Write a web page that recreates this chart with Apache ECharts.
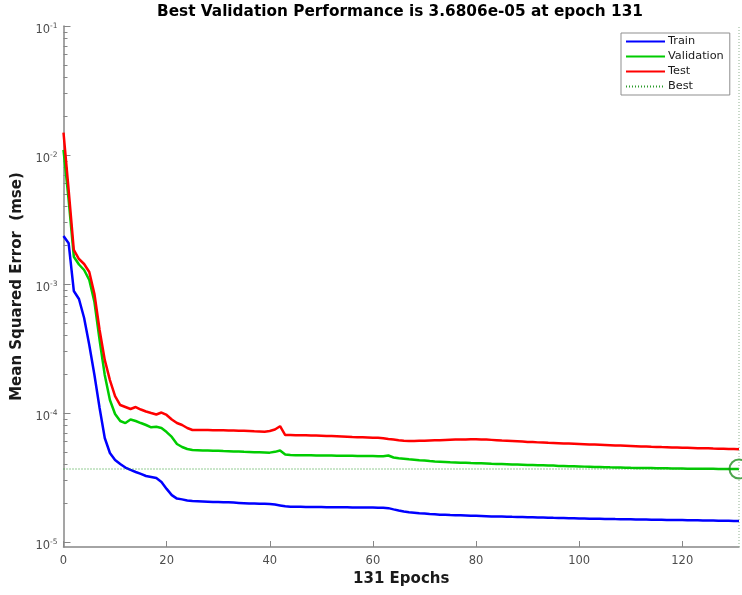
<!DOCTYPE html>
<html>
<head>
<meta charset="utf-8">
<title>Best Validation Performance</title>
<script src="https://cdn.jsdelivr.net/npm/echarts@6/dist/echarts.min.js"></script>
<style>
  html, body { margin: 0; padding: 0; background: #ffffff; }
  #chart { width: 742px; height: 595px; }
</style>
</head>
<body>
<div id="chart"></div>
<script>
// Mean squared error per training epoch (epochs 0..131)
const trainMse = [
  2.356e-3, 2.068e-3, 8.83e-4, 7.65e-4, 5.45e-4, 3.37e-4, 1.97e-4, 1.094e-4, 6.40e-5, 4.90e-5,
  4.32e-5, 4.02e-5, 3.78e-5, 3.62e-5, 3.49e-5, 3.37e-5, 3.25e-5, 3.19e-5, 3.13e-5, 2.92e-5,
  2.58e-5, 2.31e-5, 2.17e-5, 2.14e-5, 2.10e-5, 2.08e-5, 2.07e-5, 2.06e-5, 2.05e-5, 2.04e-5,
  2.04e-5, 2.03e-5, 2.03e-5, 2.02e-5, 2.01e-5, 2.00e-5, 1.99e-5, 1.99e-5, 1.98e-5, 1.98e-5,
  1.97e-5, 1.95e-5, 1.92e-5, 1.89e-5, 1.88e-5, 1.88e-5, 1.88e-5, 1.87e-5, 1.87e-5, 1.87e-5,
  1.87e-5, 1.86e-5, 1.86e-5, 1.86e-5, 1.86e-5, 1.86e-5, 1.85e-5, 1.85e-5, 1.85e-5, 1.85e-5,
  1.85e-5, 1.84e-5, 1.84e-5, 1.83e-5, 1.79e-5, 1.755e-5, 1.724e-5, 1.70e-5, 1.687e-5, 1.672e-5,
  1.66e-5, 1.648e-5, 1.64e-5, 1.63e-5, 1.625e-5, 1.619e-5, 1.615e-5, 1.61e-5, 1.605e-5, 1.60e-5,
  1.595e-5, 1.59e-5, 1.585e-5, 1.58e-5, 1.578e-5, 1.575e-5, 1.572e-5, 1.568e-5, 1.565e-5, 1.561e-5,
  1.557e-5, 1.554e-5, 1.55e-5, 1.547e-5, 1.543e-5, 1.539e-5, 1.536e-5, 1.532e-5, 1.528e-5, 1.525e-5,
  1.521e-5, 1.519e-5, 1.517e-5, 1.514e-5, 1.512e-5, 1.510e-5, 1.508e-5, 1.505e-5, 1.503e-5, 1.501e-5,
  1.499e-5, 1.497e-5, 1.494e-5, 1.492e-5, 1.490e-5, 1.488e-5, 1.486e-5, 1.484e-5, 1.482e-5, 1.480e-5,
  1.478e-5, 1.476e-5, 1.474e-5, 1.472e-5, 1.470e-5, 1.468e-5, 1.466e-5, 1.464e-5, 1.462e-5, 1.460e-5,
  1.458e-5, 1.455e-5
];

const validationMse = [
  1.094e-2, 4.48e-3, 1.628e-3, 1.416e-3, 1.284e-3, 1.074e-3, 7.25e-4, 3.68e-4, 1.97e-4, 1.261e-4,
  9.82e-5, 8.67e-5, 8.36e-5, 8.90e-5, 8.67e-5, 8.36e-5, 8.07e-5, 7.75e-5, 7.82e-5, 7.65e-5,
  7.12e-5, 6.52e-5, 5.75e-5, 5.45e-5, 5.26e-5, 5.17e-5, 5.15e-5, 5.13e-5, 5.12e-5, 5.10e-5,
  5.09e-5, 5.07e-5, 5.06e-5, 5.04e-5, 5.02e-5, 5.00e-5, 4.99e-5, 4.97e-5, 4.96e-5, 4.95e-5,
  4.93e-5, 5.00e-5, 5.12e-5, 4.77e-5, 4.72e-5, 4.71e-5, 4.71e-5, 4.70e-5, 4.70e-5, 4.69e-5,
  4.69e-5, 4.68e-5, 4.68e-5, 4.67e-5, 4.67e-5, 4.66e-5, 4.66e-5, 4.65e-5, 4.65e-5, 4.64e-5,
  4.64e-5, 4.63e-5, 4.63e-5, 4.68e-5, 4.52e-5, 4.46e-5, 4.42e-5, 4.38e-5, 4.35e-5, 4.31e-5,
  4.28e-5, 4.24e-5, 4.21e-5, 4.19e-5, 4.17e-5, 4.15e-5, 4.14e-5, 4.12e-5, 4.11e-5, 4.09e-5,
  4.08e-5, 4.07e-5, 4.06e-5, 4.04e-5, 4.03e-5, 4.02e-5, 4.01e-5, 3.99e-5, 3.98e-5, 3.97e-5,
  3.96e-5, 3.95e-5, 3.94e-5, 3.93e-5, 3.92e-5, 3.91e-5, 3.89e-5, 3.88e-5, 3.87e-5, 3.86e-5,
  3.85e-5, 3.84e-5, 3.83e-5, 3.82e-5, 3.81e-5, 3.80e-5, 3.79e-5, 3.785e-5, 3.78e-5, 3.77e-5,
  3.76e-5, 3.755e-5, 3.75e-5, 3.745e-5, 3.74e-5, 3.735e-5, 3.73e-5, 3.725e-5, 3.72e-5, 3.715e-5,
  3.71e-5, 3.705e-5, 3.70e-5, 3.697e-5, 3.694e-5, 3.691e-5, 3.689e-5, 3.687e-5, 3.685e-5, 3.683e-5,
  3.682e-5, 3.6806e-5
];

const testMse = [
  1.489e-2, 5.35e-3, 1.835e-3, 1.562e-3, 1.429e-3, 1.239e-3, 8.36e-4, 4.40e-4, 2.58e-4, 1.80e-4,
  1.354e-4, 1.153e-4, 1.113e-4, 1.074e-4, 1.113e-4, 1.064e-4, 1.027e-4, 1.000e-4, 9.74e-5, 1.009e-4,
  9.65e-5, 8.90e-5, 8.36e-5, 8.07e-5, 7.65e-5, 7.38e-5, 7.38e-5, 7.38e-5, 7.37e-5, 7.36e-5,
  7.35e-5, 7.34e-5, 7.33e-5, 7.31e-5, 7.29e-5, 7.27e-5, 7.24e-5, 7.21e-5, 7.19e-5, 7.17e-5,
  7.25e-5, 7.45e-5, 7.90e-5, 6.75e-5, 6.74e-5, 6.73e-5, 6.72e-5, 6.71e-5, 6.70e-5, 6.68e-5,
  6.66e-5, 6.64e-5, 6.62e-5, 6.60e-5, 6.58e-5, 6.55e-5, 6.52e-5, 6.50e-5, 6.48e-5, 6.46e-5,
  6.44e-5, 6.42e-5, 6.38e-5, 6.29e-5, 6.22e-5, 6.15e-5, 6.10e-5, 6.08e-5, 6.08e-5, 6.09e-5,
  6.10e-5, 6.12e-5, 6.14e-5, 6.16e-5, 6.18e-5, 6.20e-5, 6.22e-5, 6.23e-5, 6.24e-5, 6.25e-5,
  6.25e-5, 6.24e-5, 6.22e-5, 6.19e-5, 6.15e-5, 6.11e-5, 6.09e-5, 6.06e-5, 6.03e-5, 6.00e-5,
  5.97e-5, 5.95e-5, 5.92e-5, 5.90e-5, 5.87e-5, 5.85e-5, 5.83e-5, 5.81e-5, 5.79e-5, 5.77e-5,
  5.75e-5, 5.73e-5, 5.71e-5, 5.69e-5, 5.67e-5, 5.65e-5, 5.63e-5, 5.61e-5, 5.59e-5, 5.57e-5,
  5.55e-5, 5.53e-5, 5.51e-5, 5.49e-5, 5.47e-5, 5.46e-5, 5.44e-5, 5.43e-5, 5.41e-5, 5.40e-5,
  5.38e-5, 5.37e-5, 5.36e-5, 5.34e-5, 5.33e-5, 5.32e-5, 5.30e-5, 5.29e-5, 5.28e-5, 5.26e-5,
  5.25e-5, 5.23e-5
];

const bestEpoch = 131;
const bestMse = 3.6806e-5;

const xTicks = [0, 20, 40, 60, 80, 100, 120];
const yDecades = [1e-5, 1e-4, 1e-3, 1e-2, 1e-1];
const yMin = 9.147e-6;
const yMax = 1e-1;

// minor log ticks at 2..9 x 10^n inside each decade
const yMinorTicks = [];
yDecades.slice(0, -1).forEach(function (d) {
  for (let k = 2; k <= 9; k++) yMinorTicks.push(k * d);
});

const FONT = 'DejaVu Sans';
const AXIS_GRAY = '#878787';
const LABEL_GRAY = '#4d4d4d';

const toPairs = arr => arr.map((v, i) => [i, v]);

const chart = echarts.init(document.getElementById('chart'), null, { renderer: 'canvas' });

chart.setOption({
  animation: false,
  backgroundColor: '#ffffff',
  textStyle: { fontFamily: FONT },
  title: {
    text: 'Best Validation Performance is ' + bestMse.toExponential(4).replace('e-', 'e-0') + ' at epoch ' + bestEpoch,
    left: 395,
    textAlign: 'center',
    top: 0,
    textStyle: { fontFamily: FONT, fontSize: 15.3, fontWeight: 'bold', color: '#000000' }
  },
  legend: {
    data: ['Train', 'Validation', 'Test', 'Best'],
    orient: 'vertical',
    left: 621,
    top: 33,
    itemWidth: 39,
    itemHeight: 12,
    itemGap: 4,
    padding: [3, 6, 3, 4],
    borderColor: '#8f8f8f',
    borderWidth: 1,
    borderRadius: 0,
    backgroundColor: '#ffffff',
    // legend keys show only the line, no marker
    itemStyle: { color: 'rgba(0,0,0,0)', borderWidth: 0, opacity: 0 },
    textStyle: { fontFamily: FONT, fontSize: 11.3, color: '#1a1a1a', padding: [0, 0, 0, -2] },
    selectedMode: false
  },
  grid: {
    left: 63.5,
    right: 3,
    top: 26,
    bottom: 48,
    containLabel: false,
    outerBoundsMode: 'none'
  },
  xAxis: {
    type: 'value',
    min: 0,
    max: bestEpoch,
    name: bestEpoch + ' Epochs',
    nameLocation: 'middle',
    nameGap: 24,
    nameTextStyle: { fontFamily: FONT, fontSize: 15, fontWeight: 'bold', color: '#1a1a1a' },
    axisLine: { show: true, onZero: false, lineStyle: { color: AXIS_GRAY, width: 1.5 } },
    axisTick: { show: true, inside: true, length: 6, customValues: xTicks, lineStyle: { color: AXIS_GRAY, width: 1 } },
    axisLabel: { customValues: xTicks, margin: 8, fontFamily: FONT, fontSize: 11.5, color: LABEL_GRAY },
    splitLine: { show: false }
  },
  yAxis: [
    {
      type: 'log',
      logBase: 10,
      min: yMin,
      max: yMax,
      position: 'left',
      name: 'Mean Squared Error  (mse)',
      nameLocation: 'middle',
      nameGap: 34,
      nameTextStyle: { fontFamily: FONT, fontSize: 15, fontWeight: 'bold', color: '#1a1a1a' },
      axisLine: { show: true, onZero: false, lineStyle: { color: AXIS_GRAY, width: 1.5 } },
      axisTick: { show: true, inside: true, length: 7, customValues: yDecades, lineStyle: { color: AXIS_GRAY, width: 1 } },
      axisLabel: {
        customValues: yDecades,
        margin: 6,
        padding: [6, 0, 0, 0],
        formatter: function (v) {
          const e = Math.round(Math.log10(v));
          return '{b|10}{s|' + e + '}';
        },
        rich: {
          b: { fontFamily: FONT, fontSize: 11.5, color: LABEL_GRAY, lineHeight: 14, verticalAlign: 'bottom' },
          s: { fontFamily: FONT, fontSize: 7.5, color: LABEL_GRAY, lineHeight: 8, padding: [0, 0, 6, 0], verticalAlign: 'bottom' }
        }
      },
      splitLine: { show: false }
    },
    {
      type: 'log',
      logBase: 10,
      min: yMin,
      max: yMax,
      position: 'left',
      axisLine: { show: false },
      axisTick: { show: true, inside: true, length: 4, customValues: yMinorTicks, lineStyle: { color: AXIS_GRAY, width: 1 } },
      axisLabel: { show: false },
      splitLine: { show: false }
    }
  ],
  series: [
    {
      name: 'Train',
      type: 'line',
      data: toPairs(trainMse),
      symbol: 'none',
      color: '#0000ff',
      lineStyle: { color: '#0000ff', width: 2.5 },
      z: 2
    },
    {
      name: 'Validation',
      type: 'line',
      data: toPairs(validationMse),
      symbol: 'none',
      color: '#00cc00',
      lineStyle: { color: '#00cc00', width: 2.5 },
      z: 3
    },
    {
      name: 'Test',
      type: 'line',
      data: toPairs(testMse),
      symbol: 'none',
      color: '#ff0000',
      lineStyle: { color: '#ff0000', width: 2.5 },
      z: 4
    },
    {
      name: 'Best',
      type: 'line',
      data: [[0, bestMse], [bestEpoch, bestMse]],
      symbol: 'none',
      color: '#2a9a2a',
      lineStyle: { color: '#2a9a2a', width: 1, type: [1, 2] },
      z: 5
    },
    {
      name: 'Best',
      type: 'line',
      data: [[bestEpoch, yMin], [bestEpoch, yMax]],
      symbol: 'none',
      color: '#2a9a2a',
      clip: false,
      lineStyle: { color: '#8fb08f', width: 1, type: [1, 2] },
      z: 5
    },
    {
      name: 'Best epoch',
      type: 'scatter',
      data: [[bestEpoch, bestMse]],
      symbol: 'circle',
      symbolSize: 19,
      clip: false,
      itemStyle: { color: 'rgba(0,0,0,0)', borderColor: '#1f8f1f', borderWidth: 2 },
      z: 6
    }
  ]
});
</script>
</body>
</html>
